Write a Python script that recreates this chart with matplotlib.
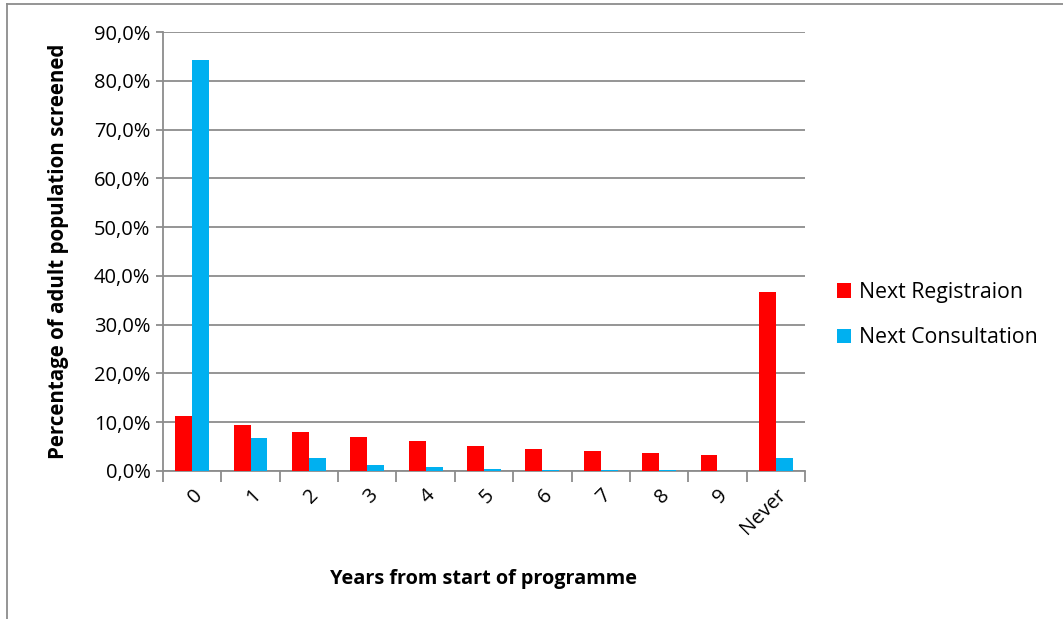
import matplotlib.pyplot as plt
import numpy as np
from matplotlib.lines import Line2D

plt.rcParams['font.family'] = ['Open Sans', 'DejaVu Sans']

# years since programme start, share of adult population screened (%)
anios = ["0", "1", "2", "3", "4", "5", "6", "7", "8", "9", "Never"]
registro = [11.2, 9.4, 8.0, 6.9, 6.2, 5.1, 4.5, 4.0, 3.6, 3.3, 36.7]
consulta = [84.2, 6.8, 2.6, 1.2, 0.8, 0.4, 0.3, 0.3, 0.2, 0.1, 2.7]

rojo = "#FF0000"
azul = "#00B0F0"
gris = "#8C8C8C"

fig = plt.figure(figsize=(10.63, 6.19), dpi=100)
ax = fig.add_axes([0.1533, 0.2391, 0.604, 0.7092])

x = np.arange(len(anios))
ancho = 0.29
ax.bar(x - ancho / 2, registro, ancho, color=rojo, label="Next Registraion", zorder=3)
ax.bar(x + ancho / 2, consulta, ancho, color=azul, label="Next Consultation", zorder=3)

ax.set_xlim(-0.5, len(anios) - 0.5)
ax.set_ylim(0, 90)
ax.set_yticks(np.arange(0, 91, 10))
ax.set_yticklabels([f"{v:.1f}%".replace(".", ",") for v in range(0, 91, 10)], fontsize=14.5)
ax.yaxis.grid(True, color=gris, linewidth=1.3, zorder=0)

# tick marks between categories, labels at centers
ax.set_xticks(np.arange(-0.5, len(anios)), labels=[""] * (len(anios) + 1))
ax.set_xticks(x, minor=True)
ax.set_xticklabels(anios, minor=True, rotation=45, ha="right", va="top",
                   rotation_mode="anchor", fontsize=14.5)
ax.tick_params(axis="x", which="major", length=8, color=gris, width=1.3)
ax.tick_params(axis="x", which="minor", length=0, pad=10)
ax.tick_params(axis="y", length=5, color=gris, width=1.3, pad=4)

for lado in ["top", "right"]:
    ax.spines[lado].set_visible(False)
for lado in ["left", "bottom"]:
    ax.spines[lado].set_color(gris)
    ax.spines[lado].set_linewidth(1.3)

ax.set_ylabel("Percentage of adult population screened", fontsize=14.8, fontweight="bold", labelpad=18)
ax.set_xlabel("Years from start of programme", fontsize=14.3, fontweight="bold", labelpad=22)

ax.legend(loc="center left", bbox_to_anchor=(1.02, 0.355), frameon=False, fontsize=15.3,
          handlelength=0.65, handleheight=0.65, handletextpad=0.4, labelspacing=1.15)

# chart frame line at top and left
fig.add_artist(Line2D([7 / 1063, 1], [1 - 4 / 619, 1 - 4 / 619], color=gris, linewidth=1.3))
fig.add_artist(Line2D([7 / 1063, 7 / 1063], [0, 1 - 4 / 619], color=gris, linewidth=1.3))

fig.savefig("out.png", dpi=100)
